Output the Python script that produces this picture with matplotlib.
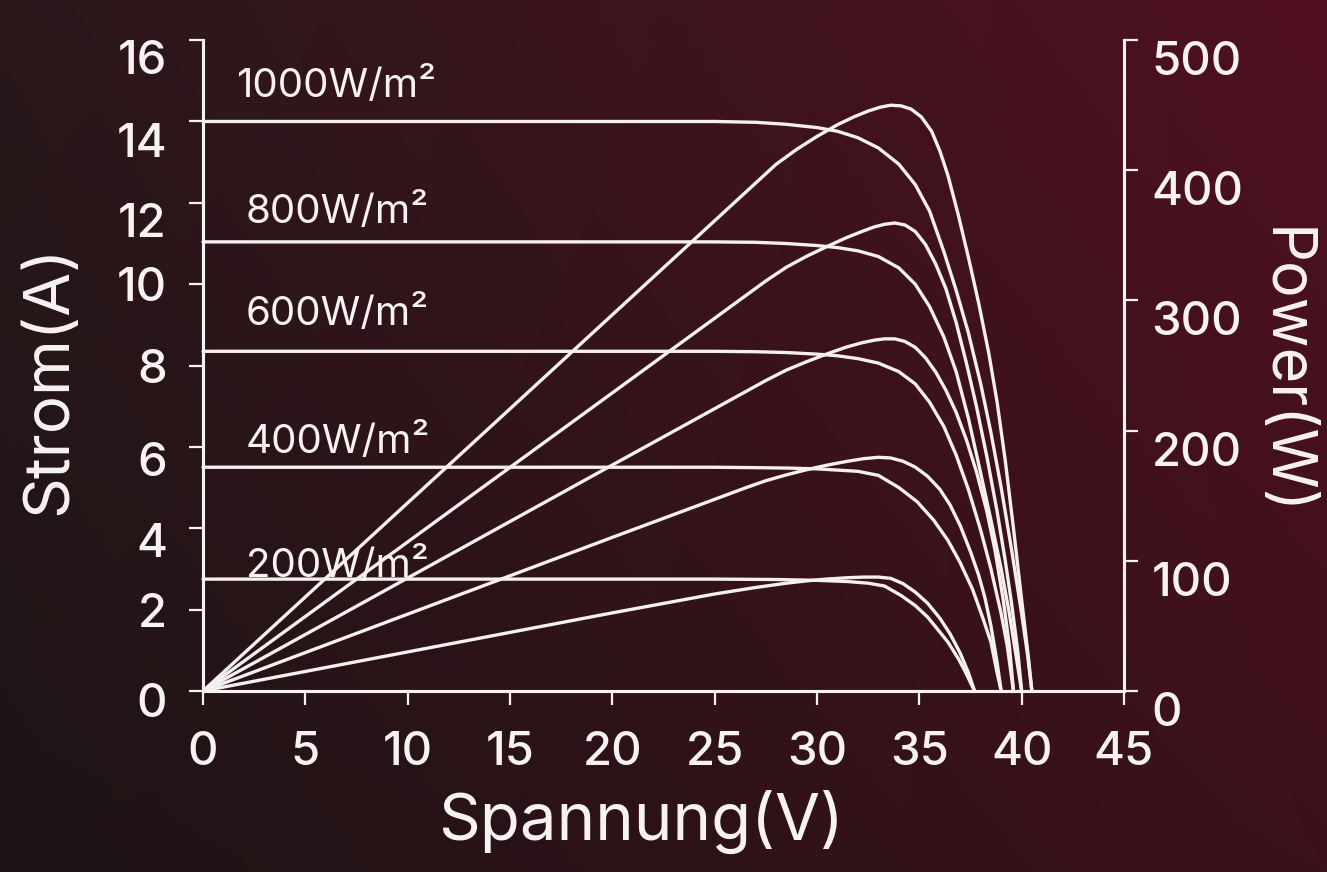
import numpy as np
import matplotlib
matplotlib.use("Agg")
import matplotlib.pyplot as plt
from matplotlib.transforms import ScaledTranslation

# irradiance levels and the I-V / P-V readings for each one
levels = ["1000W/m²", "800W/m²", "600W/m²", "400W/m²", "200W/m²"]

# current (A) against voltage (V)
iv_v_1000 = [0, 10, 20, 25, 27, 28.5, 30, 31, 32, 33, 34, 34.8, 35.5, 36.2, 36.8, 37.4, 38.0, 38.5, 39.0, 39.5, 40.0, 40.3, 40.5]
iv_i_1000 = [14.0, 14.0, 14.0, 14.0, 13.98, 13.93, 13.85, 13.76, 13.6, 13.35, 12.95, 12.45, 11.8, 10.8, 9.85, 8.8, 7.55, 6.35, 5.0, 3.5, 1.9, 0.85, 0]

iv_v_800 = [0, 10, 20, 25, 27, 28.5, 30, 31, 32, 33, 34, 34.8, 35.5, 36.2, 36.8, 37.4, 38.0, 38.5, 39.0, 39.4, 39.7, 40.0]
iv_i_800 = [11.04, 11.04, 11.04, 11.04, 11.03, 11.0, 10.95, 10.9, 10.82, 10.68, 10.4, 10.0, 9.45, 8.7, 7.85, 6.7, 5.35, 4.2, 3.0, 1.9, 0.95, 0]

iv_v_600 = [0, 10, 20, 25, 27, 28.5, 30, 31, 32, 33, 34, 34.8, 35.5, 36.2, 36.8, 37.4, 38.0, 38.5, 39.0, 39.3, 39.6]
iv_i_600 = [8.35, 8.35, 8.35, 8.35, 8.34, 8.32, 8.28, 8.24, 8.17, 8.06, 7.85, 7.55, 7.1, 6.5, 5.8, 4.95, 3.95, 3.0, 1.9, 1.1, 0]

iv_v_400 = [0, 10, 20, 25, 27, 28.5, 30, 31, 32, 33, 34, 34.9, 35.7, 36.4, 37.0, 37.6, 38.1, 38.5, 38.8, 39.0]
iv_i_400 = [5.5, 5.5, 5.5, 5.5, 5.49, 5.48, 5.46, 5.43, 5.4, 5.3, 5.0, 4.65, 4.2, 3.7, 3.15, 2.5, 1.8, 1.2, 0.45, 0]

iv_v_200 = [0, 10, 20, 25, 28, 30, 31.5, 32.5, 33.3, 34.1, 34.8, 35.4, 36.0, 36.4, 36.9, 37.2, 37.7]
iv_i_200 = [2.75, 2.75, 2.75, 2.75, 2.74, 2.72, 2.69, 2.65, 2.58, 2.35, 2.1, 1.82, 1.45, 1.2, 0.8, 0.52, 0]

# power (W) against voltage (V)
pv_v_1000 = [0, 10, 20, 28, 29, 30, 31, 31.8, 32.5, 33.1, 33.6, 34.1, 34.6, 35.1, 35.6, 36.0, 36.4, 36.9, 37.4, 37.9, 38.4, 38.8, 39.2, 39.6, 40.0, 40.3, 40.5]
pv_p_1000 = [0, 144.5, 289, 404.6, 416, 426, 435, 441, 445.5, 448.5, 450, 449.5, 447, 441, 430, 415, 396, 366, 333, 298, 259, 222, 177, 125, 70, 30, 0]

pv_v_800 = [0, 10, 20, 27.5, 28.5, 29.5, 30.5, 31.4, 32.2, 32.8, 33.3, 33.8, 34.3, 34.8, 35.3, 35.8, 36.3, 36.8, 37.3, 37.8, 38.3, 38.8, 39.2, 39.5, 39.8, 40.0]
pv_p_800 = [0, 114.5, 229, 315, 325.5, 334, 341.5, 348, 353, 356.5, 358.5, 359.5, 358, 353, 343, 328, 309, 283, 252, 218, 180, 138, 100, 68, 32, 0]

pv_v_600 = [0, 10, 20, 27.5, 28.5, 29.5, 30.5, 31.4, 32.2, 32.8, 33.3, 33.8, 34.3, 34.8, 35.3, 35.8, 36.3, 36.8, 37.3, 37.8, 38.3, 38.7, 39.1, 39.4, 39.6]
pv_p_600 = [0, 86.8, 173.6, 238.5, 246.5, 253, 259, 264, 267.5, 269.5, 270.5, 270.5, 268.5, 264, 256, 245, 231, 214, 193, 168, 138, 108, 70, 35, 0]

pv_v_400 = [0, 10, 20, 26.5, 27.5, 28.5, 29.5, 30.5, 31.5, 32.3, 33.0, 33.6, 34.2, 34.8, 35.4, 36.0, 36.5, 37.0, 37.5, 37.9, 38.2, 38.5, 38.8, 39.0]
pv_p_400 = [0, 59, 118, 156, 161.5, 166, 170, 173.5, 176.5, 178.5, 179.5, 179, 176.5, 172, 165, 155, 143, 127, 107, 89, 72, 50, 22, 0]

pv_v_200 = [0, 10, 20, 25, 27, 28.5, 29.5, 30.5, 31.5, 32.3, 33.0, 33.6, 34.2, 34.8, 35.4, 36.0, 36.5, 37.0, 37.4, 37.7]
pv_p_200 = [0, 30, 60, 74.5, 79.5, 82.8, 84.6, 86, 87, 87.5, 87.5, 86.5, 82.5, 76, 67.5, 56, 44, 29, 14, 0]

iv_curves = [(iv_v_1000, iv_i_1000), (iv_v_800, iv_i_800), (iv_v_600, iv_i_600),
             (iv_v_400, iv_i_400), (iv_v_200, iv_i_200)]
pv_curves = [(pv_v_1000, pv_p_1000), (pv_v_800, pv_p_800), (pv_v_600, pv_p_600),
             (pv_v_400, pv_p_400), (pv_v_200, pv_p_200)]

x_ticks = [0, 5, 10, 15, 20, 25, 30, 35, 40, 45]
i_ticks = [0, 2, 4, 6, 8, 10, 12, 14, 16]
p_ticks = [0, 100, 200, 300, 400, 500]

# where the irradiance labels sit (V, A)
label_x = [1.6, 2.1, 2.1, 2.1, 2.1]
label_y = [14.6, 11.5, 9.0, 5.85, 2.8]

FONT = ["Inter", "DejaVu Sans"]
WHITE = "#f8f2f2"
LINE = "#f6efef"

fig = plt.figure(figsize=(13.27, 8.72), dpi=100)

# background gradient, dark bottom-left to maroon top-right
bg = fig.add_axes([0, 0, 1, 1], zorder=-10)
gx, gy = np.meshgrid(np.linspace(0, 1, 256), np.linspace(0, 1, 256))
c_bl = np.array([0x1c, 0x14, 0x15]) / 255
c_tl = np.array([0x2a, 0x18, 0x1b]) / 255
c_br = np.array([0x3c, 0x11, 0x1a]) / 255
c_tr = np.array([0x50, 0x10, 0x20]) / 255
img = (c_bl * ((1 - gx) * (1 - gy))[..., None] + c_br * (gx * (1 - gy))[..., None]
       + c_tl * ((1 - gx) * gy)[..., None] + c_tr * (gx * gy)[..., None])
bg.imshow(img, origin="lower", extent=[0, 1, 0, 1], aspect="auto")
bg.axis("off")

ax = fig.add_axes([0.153, 0.2076, 0.694, 0.7464])
ax.patch.set_alpha(0)
ax2 = ax.twinx()
ax2.patch.set_alpha(0)

for v, i in iv_curves:
    ax.plot(v, i, color=LINE, lw=2.4, solid_joinstyle="round", solid_capstyle="round", clip_on=False)
for v, p in pv_curves:
    ax2.plot(v, p, color=LINE, lw=2.4, solid_joinstyle="round", solid_capstyle="round", clip_on=False)

ax.set_xlim(0, 45)
ax.set_ylim(0, 16)
ax2.set_ylim(0, 500)
ax.set_xticks(x_ticks)
ax.set_yticks(i_ticks)
ax2.set_yticks(p_ticks)

for a in (ax, ax2):
    for side in a.spines:
        a.spines[side].set_color(WHITE)
        a.spines[side].set_linewidth(2.2)
    a.spines["top"].set_visible(False)
    a.tick_params(colors=WHITE, width=1.6, length=10, labelsize=34)
    for lab in a.get_xticklabels() + a.get_yticklabels():
        lab.set_fontfamily(FONT)
        lab.set_fontweight("medium")
ax.tick_params(axis="x", pad=19)
ax.tick_params(axis="y", pad=16)
ax2.tick_params(axis="y", pad=10)

# the tick labels in the picture sit a little below their ticks
left_shift = [9, 0, 12, 12, 0, 0, 17, 19, 17]
for lab, dy in zip(ax.get_yticklabels(), left_shift):
    lab.set_transform(lab.get_transform() + ScaledTranslation(0, -dy / 100, fig.dpi_scale_trans))
for lab in ax2.get_yticklabels():
    lab.set_transform(lab.get_transform() + ScaledTranslation(0, -0.18, fig.dpi_scale_trans))

fig.text(641 / 1327, 1 - 822 / 872, "Spannung(V)", color=WHITE, fontsize=47, fontfamily=FONT,
         ha="center", va="center")
fig.text(50 / 1327, 1 - 380 / 872, "Strom(A)", color=WHITE, fontsize=46, fontfamily=FONT,
         ha="center", va="center", rotation=90)
fig.text(1283 / 1327, 1 - 372 / 872, "Power(W)", color=WHITE, fontsize=44, fontfamily=FONT,
         ha="center", va="center", rotation=270)

for txt, lx, ly in zip(levels, label_x, label_y):
    ax.text(lx, ly, txt, color=WHITE, fontsize=29, fontfamily=FONT, va="baseline", ha="left")

fig.savefig("out.png", dpi=100)
